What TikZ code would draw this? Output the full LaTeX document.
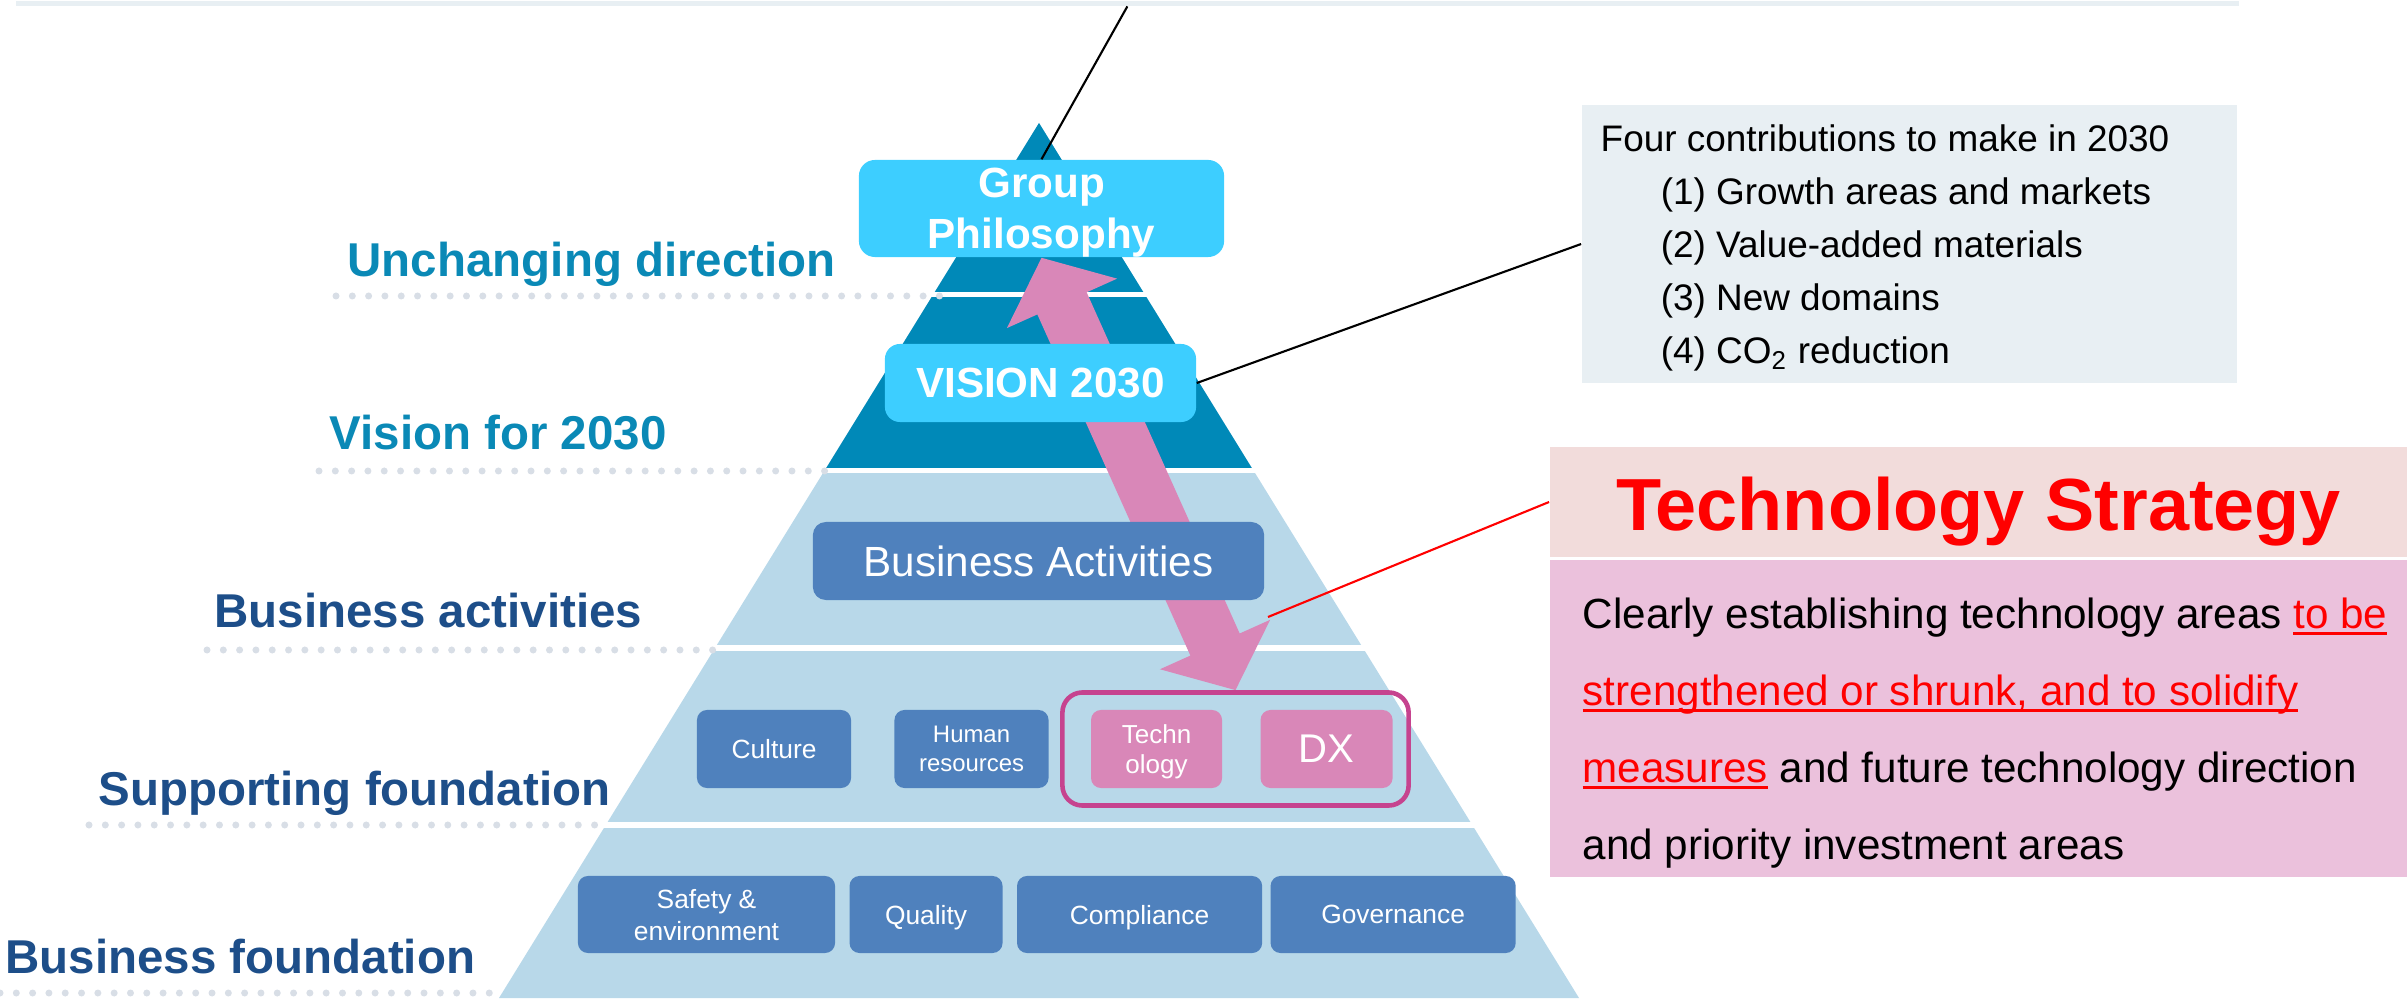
\documentclass[tikz,border=0pt]{standalone}
\usepackage{fontspec}
\setmainfont{Liberation Sans}
\usetikzlibrary{arrows.meta,positioning,calc}
\pgfdeclarelayer{bg}
\pgfdeclarelayer{mid}
\pgfsetlayers{bg,mid,main}
\definecolor{pyrdark}{HTML}{0089B8}
\definecolor{pyrlight}{HTML}{B8D8E9}
\definecolor{cyanfill}{HTML}{3DCEFF}
\definecolor{boxblue}{HTML}{4F81BD}
\definecolor{techpink}{HTML}{D987B8}
\definecolor{grpmagenta}{HTML}{C6438F}
\definecolor{dotgray}{HTML}{D8DEE6}
\definecolor{infogray}{HTML}{E8EFF3}
\definecolor{titlepink}{HTML}{F2DCDB}
\definecolor{bodypink}{HTML}{EBC1DC}
\definecolor{lblteal}{HTML}{0A89B6}
\definecolor{lblnavy}{HTML}{1D4E89}
\tikzstyle{lvl} = [anchor=base west,inner sep=0,font=\fontsize{13.5}{16}\selectfont\bfseries]
\tikzstyle{cyanbox} = [rectangle,rounded corners=0.16cm,fill=cyanfill,text=white,align=center,inner sep=0,text depth=0cm,font=\fontsize{12}{14.5}\selectfont\bfseries]
\tikzstyle{bluebox} = [rectangle,rounded corners=0.1cm,fill=boxblue,text=white,align=center,inner sep=0,text depth=0cm,minimum height=0.78cm,font=\fontsize{7.5}{9.1}\selectfont]
\tikzstyle{pinkbox} = [bluebox,fill=techpink]
\tikzstyle{dotrow} = [line width=0.07cm,line cap=round,dash pattern=on 0pt off 0.163cm,draw=dotgray]
\tikzstyle{callout} = [line width=0.6pt]
\tikzstyle{bigarrow} = [{Triangle[length=0.5cm,width=1.18cm]}-{Triangle[length=0.5cm,width=1.18cm]},line width=0.54cm,draw=techpink]
\newcommand{\redul}[1]{{\color{red}\setbox0=\hbox{#1}\rlap{\rule[-0.15em]{\wd0}{0.06em}}\box0}}

\begin{document}
\begin{tikzpicture}[x=0.01cm,y=-0.01cm]
\useasboundingbox (0,0) rectangle (2407,1001);

\node (topbar) [rectangle,fill=infogray,minimum width=22.22cm,minimum height=0.05cm,inner sep=0,anchor=north west] at (15,0) {};

\node (gp) [cyanbox,minimum width=3.65cm,minimum height=0.97cm] at (1041.5,208.5) {Group\\Philosophy};
\node (vision) [cyanbox,rounded corners=0.15cm,minimum width=3.11cm,minimum height=0.78cm] at (1040.5,383) {VISION 2030};
\node (busact) [bluebox,rounded corners=0.13cm,minimum width=4.51cm,font=\fontsize{12}{14}\selectfont] at (1038.5,561) {Business Activities};

\node (culture) [bluebox,minimum width=1.54cm] at (774,749) {Culture};
\node (human) [bluebox,minimum width=1.54cm,font=\fontsize{6.8}{8.3}\selectfont,right=0.42cm of culture] {Human\\resources};
\node (techno) [pinkbox,minimum width=1.31cm,font=\fontsize{7.4}{8.5}\selectfont,right=0.41cm of human] {Techn\\ology};
\node (dx) [pinkbox,minimum width=1.32cm,font=\fontsize{11.4}{13}\selectfont,right=0.37cm of techno] {DX};
\node (techgrp) [draw=grpmagenta,line width=1.3pt,rounded corners=0.2cm,minimum width=3.46cm,minimum height=1.13cm,inner sep=0] at (1235.5,749) {};

\node (safety) [bluebox,minimum width=2.57cm,minimum height=0.77cm] at (706.5,914.5) {Safety \&\\environment};
\node (quality) [bluebox,minimum width=1.53cm,minimum height=0.77cm,right=0.13cm of safety] {Quality};
\node (compliance) [bluebox,minimum width=2.45cm,minimum height=0.77cm,right=0.13cm of quality] {Compliance};
\node (governance) [bluebox,minimum width=2.45cm,minimum height=0.77cm,right=0.07cm of compliance] {Governance};

\begin{pgfonlayer}{bg}
\fill[pyrlight] (1039,123) -- (499,998) -- (1579,998) -- cycle;
\fill[pyrdark] (1039,123) -- (825,470) -- (1253,470) -- cycle;
\foreach \yt/\yb in {292/297,468/473,645/651,822/828}
	\fill[white] (480,\yt) rectangle (1600,\yb);
\end{pgfonlayer}

\begin{pgfonlayer}{mid}
\draw[bigarrow] (gp.south) -- (techgrp.north);
\end{pgfonlayer}

\foreach \ys/\xs/\xe in {296/336/941,471/319/828,650/207/714,825/89/600,993/0/502}
	\draw[dotrow] (\xs,\ys) -- (\xe,\ys);

\node (lblunch) [lvl,text=lblteal] at (347,277) {Unchanging direction};
\node (lblvis) [lvl,text=lblteal] at (329,450) {Vision for 2030};
\node (lblbus) [lvl,text=lblnavy] at (214,628) {Business activities};
\node (lblsup) [lvl,text=lblnavy] at (98,805) {Supporting foundation};
\node (lblfnd) [lvl,text=lblnavy] at (5,973) {Business foundation};

\node (four) [rectangle,fill=infogray,minimum width=6.55cm,minimum height=2.78cm,inner sep=0] at (1909.5,244) {};
\node (fourtext) [anchor=north west,inner sep=0,align=left,font=\fontsize{10.5}{15.1}\selectfont] at (1600,124)
{Four contributions to make in 2030\\
\hspace*{0.6cm}(1) Growth areas and markets\\
\hspace*{0.6cm}(2) Value-added materials\\
\hspace*{0.6cm}(3) New domains\\
\hspace*{0.6cm}(4) CO\textsubscript{2} reduction};

\node (tstitle) [rectangle,fill=titlepink,minimum width=8.57cm,minimum height=1.10cm,inner sep=0,text height=0.56cm,text depth=0cm,text=red,font=\fontsize{21}{24}\selectfont\bfseries] at (1978.5,502) {Technology Strategy};
\node (tsbody) [rectangle,fill=bodypink,minimum width=8.57cm,minimum height=3.17cm,inner sep=0] at (1978.5,718.5) {};
\node (tstext) [anchor=north west,inner sep=0,align=left,font=\fontsize{12}{21.9}\selectfont] at (1582,597)
{Clearly establishing technology areas \redul{to be}\\
\redul{strengthened or shrunk, and to solidify}\\
\redul{measures} and future technology direction\\
and priority investment areas};

\coordinate (barb) at (1268,617);
\draw[callout] (gp.north) -- (topbar.south);
\draw[callout] (vision.east) -- (four.west);
\draw[callout,red] (barb) -- (tstitle.west);

\end{tikzpicture}
\end{document}
